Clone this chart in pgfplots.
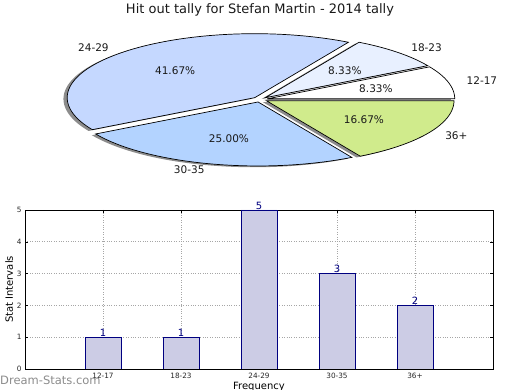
\documentclass[border=0pt]{standalone}
\usepackage{pgfplots}
\pgfplotsset{compat=1.18}
\usepackage{fontspec}
\setmainfont{DejaVu Sans}
\definecolor{cA}{HTML}{FFFFFF}
\definecolor{cB}{HTML}{E8F0FF}
\definecolor{cC}{HTML}{C5D8FF}
\definecolor{cD}{HTML}{B3D3FF}
\definecolor{cE}{HTML}{D0EB8C}
\definecolor{barfill}{HTML}{CCCCE5}
\definecolor{navy}{HTML}{000080}
\begin{document}
\begin{tikzpicture}[x=1pt,y=1pt]
\path[use as bounding box] (0,0) rectangle (520,390);
\node[font=\fontsize{13}{15}\selectfont, text=black!90] at (260,380) {Hit out tally for Stefan Martin - 2014 tally};
% Pie: values 1,1,5,3,2 (total 12) -> angles 0,30,60,210,300,360
\begin{axis}[at={(260pt,290.5pt)}, anchor=center, scale only axis,
  width=375pt, height=128pt, xmin=-1, xmax=1, ymin=-1, ymax=1,
  axis lines=none, clip=false]
% shadows
\addplot[draw=none, fill=black, fill opacity=0.45, domain=0:30, samples=20] ({-0.02+0.04*cos(15)+cos(x)}, {-0.02+0.04*sin(15)+sin(x)}) -- (axis cs:{-0.02+0.04*cos(15)},{-0.02+0.04*sin(15)}) -- cycle;
\addplot[draw=none, fill=black, fill opacity=0.45, domain=30:60, samples=20] ({-0.02+0.04*cos(45)+cos(x)}, {-0.02+0.04*sin(45)+sin(x)}) -- (axis cs:{-0.02+0.04*cos(45)},{-0.02+0.04*sin(45)}) -- cycle;
\addplot[draw=none, fill=black, fill opacity=0.45, domain=60:210, samples=80] ({-0.02+0.04*cos(135)+cos(x)}, {-0.02+0.04*sin(135)+sin(x)}) -- (axis cs:{-0.02+0.04*cos(135)},{-0.02+0.04*sin(135)}) -- cycle;
\addplot[draw=none, fill=black, fill opacity=0.45, domain=210:300, samples=50] ({-0.02+0.04*cos(255)+cos(x)}, {-0.02+0.04*sin(255)+sin(x)}) -- (axis cs:{-0.02+0.04*cos(255)},{-0.02+0.04*sin(255)}) -- cycle;
\addplot[draw=none, fill=black, fill opacity=0.45, domain=300:360, samples=35] ({-0.02+0.04*cos(330)+cos(x)}, {-0.02+0.04*sin(330)+sin(x)}) -- (axis cs:{-0.02+0.04*cos(330)},{-0.02+0.04*sin(330)}) -- cycle;
% slices
\addplot[draw=black, line width=0.7pt, fill=cA, domain=0:30, samples=20] ({0.04*cos(15)+cos(x)}, {0.04*sin(15)+sin(x)}) -- (axis cs:{0.04*cos(15)},{0.04*sin(15)}) -- cycle;
\addplot[draw=black, line width=0.7pt, fill=cB, domain=30:60, samples=20] ({0.04*cos(45)+cos(x)}, {0.04*sin(45)+sin(x)}) -- (axis cs:{0.04*cos(45)},{0.04*sin(45)}) -- cycle;
\addplot[draw=black, line width=0.7pt, fill=cC, domain=60:210, samples=80] ({0.04*cos(135)+cos(x)}, {0.04*sin(135)+sin(x)}) -- (axis cs:{0.04*cos(135)},{0.04*sin(135)}) -- cycle;
\addplot[draw=black, line width=0.7pt, fill=cD, domain=210:300, samples=50] ({0.04*cos(255)+cos(x)}, {0.04*sin(255)+sin(x)}) -- (axis cs:{0.04*cos(255)},{0.04*sin(255)}) -- cycle;
\addplot[draw=black, line width=0.7pt, fill=cE, domain=300:360, samples=35] ({0.04*cos(330)+cos(x)}, {0.04*sin(330)+sin(x)}) -- (axis cs:{0.04*cos(330)},{0.04*sin(330)}) -- cycle;
% labels
\begin{scope}[every node/.style={font=\fontsize{10.5}{12}\selectfont, text=black!90, inner sep=0pt}]
\node[anchor=west] at (axis cs:{1.14*cos(15)},{1.14*sin(15)}) {12-17};
\node[anchor=west] at (axis cs:{1.14*cos(45)},{1.14*sin(45)}) {18-23};
\node[anchor=east] at (axis cs:{1.14*cos(135)},{1.14*sin(135)}) {24-29};
\node[anchor=east] at (axis cs:{1.14*cos(255)},{1.14*sin(255)}) {30-35};
\node[anchor=west] at (axis cs:{1.14*cos(330)},{1.14*sin(330)}) {36+};
\node at (axis cs:{0.64*cos(15)},{0.64*sin(15)}) {8.33\%};
\node at (axis cs:{0.64*cos(45)},{0.64*sin(45)}) {8.33\%};
\node at (axis cs:{0.64*cos(135)},{0.64*sin(135)}) {41.67\%};
\node at (axis cs:{0.64*cos(255)},{0.64*sin(255)}) {25.00\%};
\node at (axis cs:{0.64*cos(330)},{0.64*sin(330)}) {16.67\%};
\end{scope}
\end{axis}
% Bar chart
\begin{axis}[at={(25pt,21pt)}, anchor=south west, scale only axis,
  width=468pt, height=159pt, xmin=0, xmax=6, ymin=0, ymax=5,
  xtick={1,2,3,4,5}, xticklabels={12-17,18-23,24-29,30-35,36+},
  ytick={0,1,2,3,4,5},
  /pgf/number format/assume math mode=true,
  grid=major, grid style={dotted, black!35, line width=0.8pt},
  tick align=inside, major tick length=3pt,
  tick style={black, line width=0.5pt},
  axis line style={black, line width=0.8pt},
  ticklabel style={font=\fontsize{7.3}{8}\selectfont, text=black!85},
  xticklabel style={yshift=-1pt},
  ylabel={Stat Intervals}, xlabel={Frequency},
  every axis y label/.style={at={(axis description cs:-0.034,0.5)}, rotate=90, anchor=center, font=\fontsize{10}{12}\selectfont},
  every axis x label/.style={at={(axis description cs:0.5,-0.113)}, anchor=center, font=\fontsize{10}{12}\selectfont},
  ]
\addplot[ybar, bar width=36pt, fill=barfill, draw=navy, line width=0.7pt,
  nodes near coords, nodes near coords style={text=navy, font=\fontsize{10}{12}\selectfont, inner sep=0.5pt}]
  coordinates {(1,1) (2,1) (3,5) (4,3) (5,2)};
\end{axis}
\node[anchor=west, inner sep=0pt, text=black!45, font=\fontsize{11.5}{13}\selectfont] at (0,10) {Dream-Stats.com};
\end{tikzpicture}
\end{document}
